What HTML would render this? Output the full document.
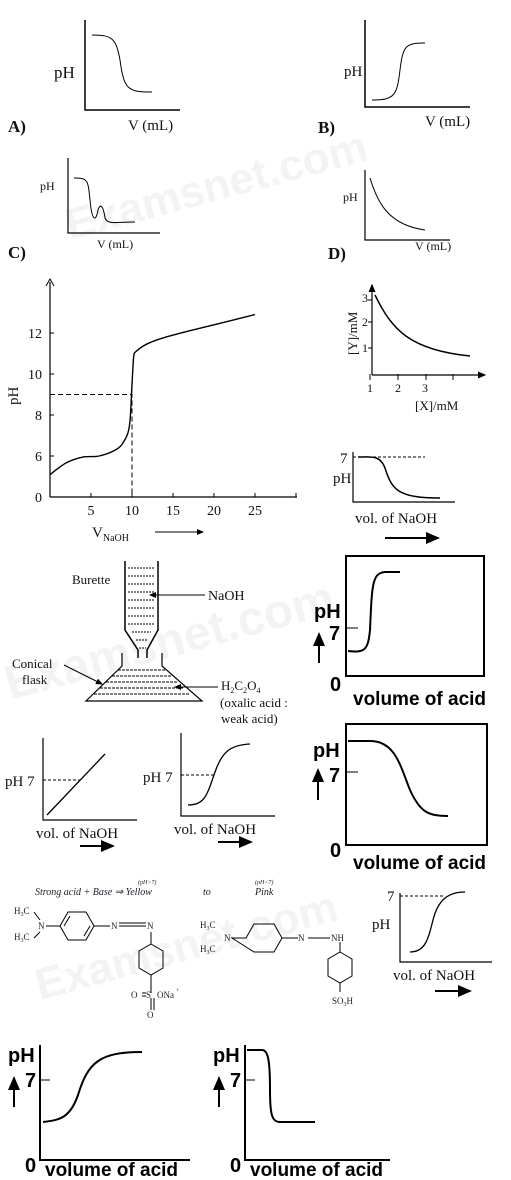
<!DOCTYPE html>
<html><head><meta charset="utf-8"><style>
html,body{margin:0;padding:0;background:#fff}
svg{display:block}
.s{font-family:"Liberation Serif",serif;fill:#111}
.b{font-family:"Liberation Sans",sans-serif;font-weight:bold;fill:#000}
.ln{stroke:#000;fill:none}
</style></head><body>
<svg width="511" height="1180" viewBox="0 0 511 1180" xmlns="http://www.w3.org/2000/svg">
<defs><marker id="ah" markerWidth="8" markerHeight="8" refX="6" refY="3" orient="auto"><path d="M0,0 L7,3 L0,6 z" fill="#000"/></marker></defs>
<g fill="#f3f3f3" font-family="Liberation Sans,sans-serif" font-weight="bold">
<text x="70" y="240" font-size="44" transform="rotate(-15 70 240)">Examsnet.com</text>
<text x="10" y="700" font-size="48" transform="rotate(-15 10 700)">Examsnet.com</text>
<text x="40" y="1000" font-size="44" transform="rotate(-15 40 1000)">Examsnet.com</text>
</g>
<g>
<path class="ln" stroke-width="1.5" d="M85,20 V110 H180"/>
<path class="ln" stroke="#555" d="M92,35 C112,35 116,38 120,60 C124,90 128,92 152,92"/>
<text class="s" x="54" y="78" font-size="17">pH</text>
<text class="s" x="128" y="130" font-size="15">V (mL)</text>
<text class="s" x="8" y="132" font-size="17" font-weight="bold">A)</text>
</g>
<g>
<path class="ln" stroke-width="1.5" d="M365,20 V107 H470"/>
<path class="ln" stroke="#555" d="M372,100 C395,100 397,95 400,70 C403,45 406,43 425,43"/>
<text class="s" x="344" y="76" font-size="15">pH</text>
<text class="s" x="425" y="126" font-size="15">V (mL)</text>
<text class="s" x="318" y="133" font-size="17" font-weight="bold">B)</text>
</g>
<g>
<path class="ln" stroke-width="1.2" d="M68,158 V233 H160"/>
<path class="ln" stroke="#555" d="M74,178 C88,178 88,180 90,200 C92,222 96,222 98,210 C100,204 103,204 105,218 C108,225 115,222 135,222"/>
<text class="s" x="40" y="190" font-size="12">pH</text>
<text class="s" x="97" y="248" font-size="12">V (mL)</text>
<text class="s" x="8" y="258" font-size="17" font-weight="bold">C)</text>
</g>
<g>
<path class="ln" stroke-width="1.2" d="M365,170 V240 H450"/>
<path class="ln" stroke="#666" d="M370,178 C378,205 390,225 425,230"/>
<text class="s" x="343" y="201" font-size="12">pH</text>
<text class="s" x="415" y="250" font-size="12">V (mL)</text>
<text class="s" x="328" y="259" font-size="17" font-weight="bold">D)</text>
</g>
<g id="main"></g>
<g>
<path class="ln" stroke-width="1.2" d="M372,375 H485" marker-end="url(#ah)"/>
<path class="ln" stroke-width="1.2" d="M372,375 V285" marker-end="url(#ah)"/>
<path class="ln" d="M370,374 V380 M398,374 V380 M426,374 V380 M453,374 V380 M368,300 H372 M368,322 H372 M368,348 H372"/>
<path class="ln" stroke-width="1.5" d="M375,295 C392,330 410,350 470,356"/>
<text class="s" x="362" y="302" font-size="12">3</text><text class="s" x="362" y="326" font-size="12">2</text><text class="s" x="362" y="352" font-size="12">1</text>
<text class="s" x="367" y="392" font-size="12">1</text><text class="s" x="395" y="392" font-size="12">2</text><text class="s" x="422" y="392" font-size="12">3</text>
<text class="s" x="357" y="355" font-size="13" transform="rotate(-90 357 355)">[Y]/mM</text>
<text class="s" x="415" y="410" font-size="13">[X]/mM</text>
</g>
<g>
<path class="ln" stroke-width="1.2" d="M353,452 V502 H455"/>
<path class="ln" stroke-dasharray="3,2" d="M353,457 H425"/>
<path class="ln" stroke-width="1.5" d="M358,457 C372,457 380,455 385,468 C392,490 398,498 440,498"/>
<text class="s" x="340" y="463" font-size="15">7</text>
<text class="s" x="333" y="483" font-size="15">pH</text>
<text class="s" x="355" y="523" font-size="15">vol. of NaOH</text>
<path class="ln" stroke-width="2" d="M385,538 H438" marker-end="url(#ah)"/>
</g>
<g>
<path class="ln" stroke-width="1.5" d="M125,561 V630 L138,650 V658 M158,561 V630 L147,650 V658"/>
<path class="ln" stroke="#777" stroke-dasharray="2,1" d="M128,568 H155 M128,576 H155 M128,584 H155 M128,592 H155 M128,600 H155 M128,608 H155 M128,616 H155 M128,624 H155 M132,632 H151 M136,640 H148 M139,648 H146"/>
<path class="ln" stroke-width="1.2" d="M122,653 V666 L86,701 H202 L162,666 V653"/>
<path class="ln" stroke="#777" stroke-dasharray="3,1" d="M118,670 H166 M112,676 H172 M106,682 H178 M100,688 H184 M94,694 H190"/>
<text class="s" x="72" y="584" font-size="13">Burette</text>
<path class="ln" d="M205,595 H150" marker-end="url(#ah)"/>
<text class="s" x="208" y="600" font-size="14">NaOH</text>
<text class="s" x="12" y="668" font-size="13">Conical</text>
<text class="s" x="22" y="684" font-size="13">flask</text>
<path class="ln" d="M64,665 L102,684" marker-end="url(#ah)"/>
<path class="ln" d="M218,687 H175" marker-end="url(#ah)"/>
<text class="s" x="221" y="690" font-size="13">H<tspan font-size="8" dy="3">2</tspan><tspan dy="-3">C</tspan><tspan font-size="8" dy="3">2</tspan><tspan dy="-3">O</tspan><tspan font-size="8" dy="3">4</tspan></text>
<text class="s" x="220" y="707" font-size="13">(oxalic acid :</text>
<text class="s" x="221" y="723" font-size="13">weak acid)</text>
</g>
<g>
<rect x="346" y="556" width="138" height="120" fill="none" stroke="#000" stroke-width="2"/>
<path class="ln" d="M346,628 H358"/>
<path class="ln" stroke-width="2" d="M348,651 C365,653 368,650 370,630 C372,585 372,573 385,572 H400"/>
<text class="b" x="314" y="618" font-size="20">pH</text>
<path class="ln" stroke-width="2" d="M319,663 V634" marker-end="url(#ah)"/>
<text class="b" x="329" y="640" font-size="20">7</text>
<text class="b" x="330" y="691" font-size="20">0</text>
<text class="b" x="353" y="705" font-size="19">volume of acid</text>
</g>
<g>
<rect x="346" y="724" width="141" height="121" fill="none" stroke="#000" stroke-width="2"/>
<path class="ln" d="M346,772 H358"/>
<path class="ln" stroke-width="2" d="M348,741 H370 C395,741 400,765 410,790 C420,812 428,816 448,816"/>
<text class="b" x="313" y="757" font-size="20">pH</text>
<path class="ln" stroke-width="2" d="M318,800 V770" marker-end="url(#ah)"/>
<text class="b" x="329" y="782" font-size="20">7</text>
<text class="b" x="330" y="857" font-size="20">0</text>
<text class="b" x="353" y="869" font-size="19">volume of acid</text>
</g>
<g>
<path class="ln" stroke-width="1.2" d="M43,738 V820 H137"/>
<path class="ln" stroke-dasharray="3,2" d="M43,780 H80"/>
<path class="ln" stroke-width="1.3" d="M47,815 L105,754"/>
<text class="s" x="5" y="786" font-size="15">pH 7</text>
<text class="s" x="36" y="838" font-size="15">vol. of NaOH</text>
<path class="ln" stroke-width="2" d="M80,846 H113" marker-end="url(#ah)"/>
</g>
<g>
<path class="ln" stroke-width="1.2" d="M181,733 V816 H275"/>
<path class="ln" stroke-dasharray="3,2" d="M181,775 H215"/>
<path class="ln" stroke-width="1.3" d="M188,805 C205,805 207,795 215,772 C222,752 230,745 250,744"/>
<text class="s" x="143" y="782" font-size="15">pH 7</text>
<text class="s" x="174" y="834" font-size="15">vol. of NaOH</text>
<path class="ln" stroke-width="2" d="M218,842 H251" marker-end="url(#ah)"/>
</g>
<g font-family="Liberation Serif,serif" fill="#222">
<text x="35" y="895" font-size="10" font-style="italic" fill="#223">Strong acid + Base ⇒ Yellow</text>
<text x="138" y="884" font-size="6" font-style="italic">(pH&gt;7)</text>
<text x="203" y="895" font-size="10" font-style="italic">to</text>
<text x="255" y="895" font-size="10" font-style="italic">Pink</text>
<text x="255" y="884" font-size="6" font-style="italic">(pH&lt;7)</text>
<text x="14" y="914" font-size="9">H<tspan font-size="6" dy="2">3</tspan><tspan dy="-2">C</tspan></text>
<text x="14" y="940" font-size="9">H<tspan font-size="6" dy="2">3</tspan><tspan dy="-2">C</tspan></text>
<text x="38" y="929" font-size="9">N</text>
<path class="ln" d="M34,912 L40,920 M34,938 L40,932 M46,926 H60 M60,926 L68,912 H86 L94,926 L86,940 H68 Z M64,926 L70,916 M90,926 L84,936 M94,926 H110 M119,926 H146 M119,923 H146"/>
<text x="111" y="929" font-size="9">N</text><text x="147" y="929" font-size="9">N</text>
<path class="ln" d="M151,932 V944 M151,944 L163,951 V968 L151,975 L139,968 V951 Z M151,975 V993 M142,993 H146 M142,996 H146 M151,998 V1010 M154,998 V1010"/>
<text x="131" y="998" font-size="9">O</text><text x="146" y="998" font-size="9">S</text><text x="157" y="998" font-size="9">ONa</text><text x="176" y="992" font-size="6">+</text>
<text x="147" y="1018" font-size="9">O</text>
<text x="200" y="928" font-size="9">H<tspan font-size="6" dy="2">3</tspan><tspan dy="-2">C</tspan></text>
<text x="200" y="952" font-size="9">H<tspan font-size="6" dy="2">3</tspan><tspan dy="-2">C</tspan></text>
<text x="224" y="941" font-size="9">N</text>
<path class="ln" d="M232,938 H246 L254,924 H274 L282,938 L274,952 H254 Z M282,938 H298 M308,938 H330 M340,942 V952 M340,952 L352,959 V976 L340,983 L328,976 V959 Z M340,983 V992"/>
<text x="298" y="941" font-size="9">N</text><text x="331" y="941" font-size="9">NH</text>
<text x="332" y="1004" font-size="9">SO<tspan font-size="6" dy="2">3</tspan><tspan dy="-2">H</tspan></text>
</g>
<g>
<path class="ln" stroke-width="1.2" d="M400,893 V962 H492"/>
<path class="ln" stroke-dasharray="3,2" d="M400,896 H445"/>
<path class="ln" stroke-width="1.3" d="M410,952 C425,952 428,940 433,920 C438,900 448,892 465,892"/>
<text class="s" x="387" y="901" font-size="15">7</text>
<text class="s" x="372" y="929" font-size="15">pH</text>
<text class="s" x="393" y="980" font-size="15">vol. of NaOH</text>
<path class="ln" stroke-width="2" d="M435,991 H470" marker-end="url(#ah)"/>
</g>
<g>
<path class="ln" stroke-width="2" d="M40,1045 V1160 H190"/>
<path class="ln" d="M40,1080 H50"/>
<path class="ln" stroke-width="2" d="M43,1122 C60,1120 70,1118 78,1095 C88,1062 100,1052 142,1052"/>
<text class="b" x="8" y="1062" font-size="20">pH</text>
<path class="ln" stroke-width="2" d="M14,1107 V1078" marker-end="url(#ah)"/>
<text class="b" x="25" y="1087" font-size="20">7</text>
<text class="b" x="25" y="1172" font-size="20">0</text>
<text class="b" x="45" y="1176" font-size="19">volume of acid</text>
</g>
<g>
<path class="ln" stroke-width="2" d="M245,1045 V1160 H390"/>
<path class="ln" d="M245,1080 H255"/>
<path class="ln" stroke-width="2" d="M247,1050 H262 C268,1050 270,1060 270,1090 C270,1115 272,1122 280,1122 H315"/>
<text class="b" x="213" y="1062" font-size="20">pH</text>
<path class="ln" stroke-width="2" d="M219,1107 V1078" marker-end="url(#ah)"/>
<text class="b" x="230" y="1087" font-size="20">7</text>
<text class="b" x="230" y="1172" font-size="20">0</text>
<text class="b" x="250" y="1176" font-size="19">volume of acid</text>
</g>
</svg>
<script>
const vol=[0,2,4,6,8,9,9.7,10,10.2,10.5,12,15,20,25];
const ph=[2.8,4.8,5.8,6.0,6.3,6.7,7.5,9.5,10.8,11.1,11.5,11.9,12.4,12.9];
const xTicks=[5,10,15,20,25];
const yTicks=[0,6,8,10,12];
const NS="http://www.w3.org/2000/svg";
const g=document.getElementById('main');
const X=v=>50+v*8.2;
const Y=p=>p<=6?497-(p<=3?(p)*8:24+(p-3)*5.67):456-(p-6)*20.5;
function mk(t,a){const e=document.createElementNS(NS,t);for(const k in a)e.setAttribute(k,a[k]);g.appendChild(e);return e;}
let ax=mk('path',{d:'M50,497 V282 M50,497 H297',stroke:'#000',fill:'none','stroke-width':1.2});


let arr=mk('path',{d:'M46,286 L50,279 L54,286',stroke:'#000',fill:'none'});


xTicks.concat([30]).forEach((t,i)=>{
 mk('path',{d:`M${X(t)},497 V493`,stroke:'#000'});
 if(t<30){const tx=mk('text',{x:X(t),y:515,'text-anchor':'middle','font-size':14,class:'s'});tx.textContent=t;
 
 }
});
yTicks.forEach(t=>{
 mk('path',{d:`M50,${Y(t)} H54`,stroke:'#000'});
 const tx=mk('text',{x:42,y:Y(t)+5,'text-anchor':'end','font-size':14,class:'s'});tx.textContent=t;
 
 
});
const P=vol.map((v,i)=>[X(v),Y(ph[i])]);
let d='M'+P[0][0].toFixed(1)+','+P[0][1].toFixed(1);
for(let i=0;i<P.length-1;i++){
 const p0=P[i-1]||P[i],p1=P[i],p2=P[i+1],p3=P[i+2]||P[i+1];
 const c1=[p1[0]+(p2[0]-p0[0])/6,p1[1]+(p2[1]-p0[1])/6];
 const c2=[p2[0]-(p3[0]-p1[0])/6,p2[1]-(p3[1]-p1[1])/6];
 d+=` C${c1[0].toFixed(1)},${c1[1].toFixed(1)} ${c2[0].toFixed(1)},${c2[1].toFixed(1)} ${p2[0].toFixed(1)},${p2[1].toFixed(1)}`;
}
const c=mk('path',{d:d,stroke:'#000',fill:'none','stroke-width':1.4,'stroke-linejoin':'round'});


const dl=mk('path',{d:`M50,${Y(9)} H${X(10)} V497`,stroke:'#000',fill:'none','stroke-dasharray':'5,3'});


const yl=mk('text',{x:18,y:405,'font-size':15,class:'s',transform:'rotate(-90 18 405)'});yl.textContent='pH';


const xl=mk('text',{x:92,y:537,'font-size':15,class:'s'});xl.innerHTML='V<tspan font-size="10" dy="4">NaOH</tspan>';


mk('path',{d:'M155,532 H203',stroke:'#000','marker-end':'url(#ah)'});
</script>
</body></html>
